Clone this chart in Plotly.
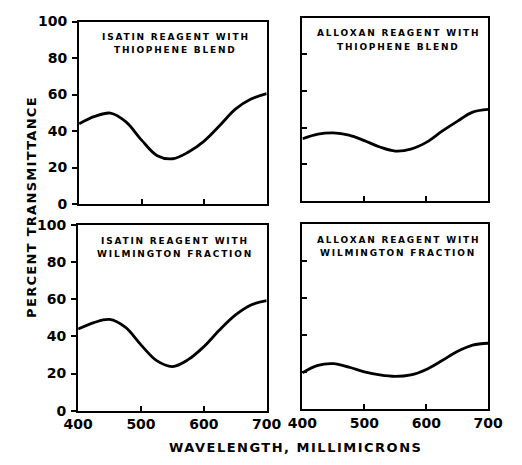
import plotly.graph_objects as go

# Wavelength grid (millimicrons)
wavelength = [400, 425, 450, 475, 500, 525, 550, 575, 600, 625, 650, 675, 700]

# Percent transmittance for each reagent / sample pair
isatin_thiophene = [44, 48, 49.8, 45, 35, 26.5, 24.8, 28.5, 34.5, 43, 52, 57.5, 60.5]
alloxan_thiophene = [34, 36.5, 37.2, 36, 33, 29.5, 27.3, 28.3, 32, 38, 43.5, 48.5, 50]
isatin_wilmington = [44, 47.5, 49.2, 45, 35.5, 27, 23.8, 27.5, 34.5, 43.5, 51.5, 57, 59.3]
alloxan_wilmington = [19.5, 23.5, 24.4, 22.5, 20, 18.3, 17.5, 18.3, 21.3, 26, 31, 34.5, 35.5]

panel_titles = [
    ("ISATIN REAGENT WITH", "THIOPHENE BLEND"),
    ("ALLOXAN REAGENT WITH", "THIOPHENE BLEND"),
    ("ISATIN REAGENT WITH", "WILMINGTON FRACTION"),
    ("ALLOXAN REAGENT WITH", "WILMINGTON FRACTION"),
]
series = [isatin_thiophene, alloxan_thiophene, isatin_wilmington, alloxan_wilmington]

x_ticks = [400, 500, 600, 700]
y_ticks = [0, 20, 40, 60, 80, 100]

W, H = 522, 465

def px_x(a, b):
    return [a / W, b / W]

def px_y(top, bottom):
    return [1 - bottom / H, 1 - top / H]

# panel boxes in pixels: (left, right, top, bottom)
boxes = [
    (68, 267, 14, 203),
    (305, 502, 10, 200),
    (67, 267, 225, 417),
    (305, 502, 224, 415),
]

FONT = "DejaVu Sans"
fig = go.Figure()
layout = dict(
    width=W, height=H,
    margin=dict(l=0, r=0, t=0, b=0),
    paper_bgcolor="white", plot_bgcolor="white",
    showlegend=False,
    font=dict(family=FONT, color="black"),
)

annotations = []
for i, (vals, box, (t1, t2)) in enumerate(zip(series, boxes, panel_titles)):
    n = i + 1
    xa = "x" if n == 1 else f"x{n}"
    ya = "y" if n == 1 else f"y{n}"
    fig.add_trace(go.Scatter(
        x=wavelength, y=vals, mode="lines",
        line=dict(color="black", width=2.8, shape="spline", smoothing=1.0),
        xaxis=xa, yaxis=ya, hoverinfo="skip",
    ))
    left, right, top, bottom = box
    bottom_row = i >= 2
    left_col = i % 2 == 0
    layout["xaxis" if n == 1 else f"xaxis{n}"] = dict(
        domain=px_x(left, right), anchor=ya, range=[400, 700],
        tickvals=x_ticks, ticks="inside", ticklen=5, tickwidth=1.5, tickcolor="black",
        showticklabels=bottom_row,
        tickfont=dict(family=FONT, size=14, weight="bold"),
        showline=True, mirror=True, linecolor="black", linewidth=2,
        showgrid=False, zeroline=False, fixedrange=True,
    )
    layout["yaxis" if n == 1 else f"yaxis{n}"] = dict(
        domain=px_y(top, bottom), anchor=xa, range=[0, 100],
        tickvals=y_ticks, ticks="outside" if left_col else "inside",
        ticklen=5, tickwidth=1.5, tickcolor="black",
        ticklabelstandoff=2,
        showticklabels=left_col,
        tickfont=dict(family=FONT, size=14, weight="bold"),
        showline=True, mirror=True, linecolor="black", linewidth=2,
        showgrid=False, zeroline=False, fixedrange=True,
    )
    cx = (left + right) / 2 + 3
    for k, txt in enumerate((t1, t2)):
        annotations.append(dict(
            text=f'<span style="letter-spacing:1.8px">{txt}</span>',
            xref="paper", yref="paper",
            x=cx / W, y=1 - (top + 16 + 14 * k) / H,
            showarrow=False, xanchor="center", yanchor="middle",
            font=dict(family=FONT, size=9, weight="bold"),
        ))

annotations.append(dict(
    text='<span style="letter-spacing:1.3px">PERCENT TRANSMITTANCE</span>',
    xref="paper", yref="paper", x=18 / W, y=1 - 206 / H,
    textangle=-90, showarrow=False, xanchor="center", yanchor="middle",
    font=dict(family=FONT, size=13, weight="bold"),
))
annotations.append(dict(
    text='<span style="letter-spacing:1.5px">WAVELENGTH, MILLIMICRONS</span>',
    xref="paper", yref="paper", x=298 / W, y=1 - 455 / H,
    showarrow=False, xanchor="center", yanchor="middle",
    font=dict(family=FONT, size=13, weight="bold"),
))
layout["annotations"] = annotations
fig.update_layout(**layout)
fig.write_html("out.html", config={"displayModeBar": False})
